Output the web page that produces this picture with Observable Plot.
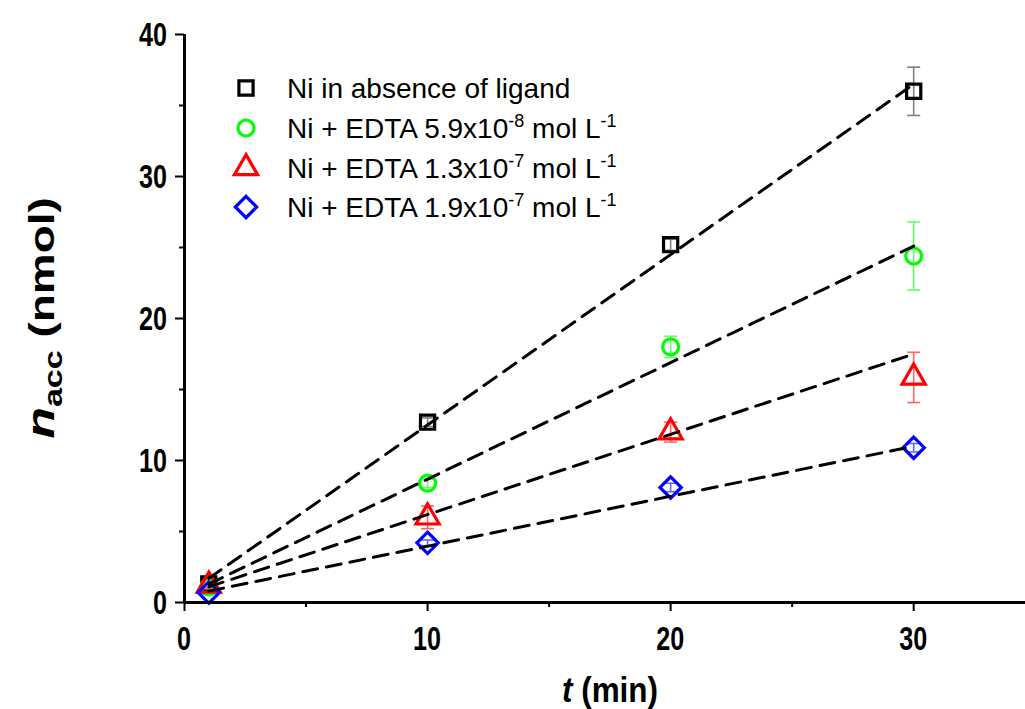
<!DOCTYPE html>
<html><head><meta charset="utf-8">
<script src="https://cdn.jsdelivr.net/npm/d3@7"></script>
<script src="https://cdn.jsdelivr.net/npm/@observablehq/plot@0.6"></script>
<style>body{margin:0;background:#fff} svg{display:block}</style>
</head><body><div id="chart"></div>
<script>
// ---- data ----
const times = [1, 10, 20, 30];
const absence = [1.3, 12.7, 25.2, 36.0];
const absenceErr = [0.3, 0.3, 0.4, 1.7];
const edta59 = [1.1, 8.4, 18.0, 24.4];
const edta59Err = [0.2, 0.3, 0.75, 2.4];
const edta13 = [1.2, 6.0, 12.0, 15.85];
const edta13Err = [0.2, 0.8, 0.7, 1.77];
const edta19 = [0.7, 4.2, 8.1, 10.9];
const edta19Err = [0.1, 0.2, 0.3, 0.3];
const fitTimes = [1, 30];
const fitAbsence = [1.7, 36.5];
const fit59 = [1.3, 25.1];
const fit13 = [1.1, 17.5];
const fit19 = [0.8, 11.0];
const xTicks = [0, 10, 20, 30];
const xMinor = [5, 15, 25];
const yTicks = [0, 10, 20, 30, 40];
const yMinor = [5, 15, 25, 35];

const FONT = '"Liberation Sans", Arial, Helvetica, sans-serif';

const series = [
  {key: "absence", values: absence, err: absenceErr, fit: fitAbsence, color: "#000000", errColor: "#808080", symbol: "square", d3sym: d3.symbolSquare, r: 8.0,
   text: [["Ni in absence of ligand", false]]},
  {key: "e59", values: edta59, err: edta59Err, fit: fit59, color: "#00ff00", errColor: "#66ff66", symbol: "circle", d3sym: d3.symbolCircle, r: 8.0,
   text: [["Ni + EDTA 5.9x10", false], ["-8", true], [" mol L", false], ["-1", true]]},
  {key: "e13", values: edta13, err: edta13Err, fit: fit13, color: "#ff0000", errColor: "#ff6666", symbol: "triangle", d3sym: d3.symbolTriangle, r: 8.6,
   text: [["Ni + EDTA 1.3x10", false], ["-7", true], [" mol L", false], ["-1", true]]},
  {key: "e19", values: edta19, err: edta19Err, fit: fit19, color: "#0000ff", errColor: "#6666ff", symbol: "diamond2", d3sym: d3.symbolDiamond2, r: 9.6,
   text: [["Ni + EDTA 1.9x10", false], ["-7", true], [" mol L", false], ["-1", true]]}
];

const points = series.flatMap(s => times.map((t, i) => ({series: s.key, x: t, y: s.values[i], e: s.err[i], color: s.color, errColor: s.errColor})));
const fits = series.flatMap(s => fitTimes.map((t, i) => ({series: s.key, x: t, y: s.fit[i]})));

const capSymbol = {draw(ctx) { ctx.moveTo(-6.5, 0); ctx.lineTo(6.5, 0); }};

const marks = [
  Plot.ruleX(points, {x: "x", y1: d => d.y - d.e, y2: d => d.y + d.e, stroke: d => d.errColor, strokeWidth: 1.6}),
  Plot.dot(points, {x: "x", y: d => d.y - d.e, symbol: () => capSymbol, stroke: d => d.errColor, strokeWidth: 1.6, r: 5}),
  Plot.dot(points, {x: "x", y: d => d.y + d.e, symbol: () => capSymbol, stroke: d => d.errColor, strokeWidth: 1.6, r: 5}),
];
for (const s of series) {
  marks.push(Plot.dot(points.filter(p => p.series === s.key), {x: "x", y: "y", symbol: s.symbol, r: s.r, stroke: s.color, fill: "none", strokeWidth: 3.2}));
}
marks.push(
  Plot.line(fits, {x: "x", y: "y", z: "series", stroke: "#000", strokeWidth: 3, strokeDasharray: "15,9"}),
  Plot.axisX({ticks: xMinor, tickSize: 5, text: null, label: null, strokeWidth: 2}),
  Plot.axisY({ticks: yMinor, tickSize: 5, text: null, label: null, strokeWidth: 2}),
  Plot.axisX({ticks: xTicks, tickSize: 9, text: null, label: null, strokeWidth: 2}),
  Plot.axisY({ticks: yTicks, tickSize: 9, text: null, label: null, strokeWidth: 2}),
  Plot.ruleY([0], {stroke: "#000", strokeWidth: 3}),
  Plot.ruleX([0], {stroke: "#000", strokeWidth: 3})
);

const chart = Plot.plot({
  width: 1025, height: 709,
  marginLeft: 184, marginRight: 0, marginTop: 34, marginBottom: 107,
  x: {domain: [0, 34.6]},
  y: {domain: [0, 40]},
  style: {fontFamily: FONT, color: "#000", background: "#fff", overflow: "visible"},
  marks
});
document.getElementById("chart").appendChild(chart);

const svg = d3.select(chart);
const xs = chart.scale("x"), ys = chart.scale("y");
// tick labels (condensed bold glyphs), placed with Plot's own scales
const tl = svg.append("g").attr("font-family", FONT).attr("font-size", 34).attr("font-weight", "bold").attr("fill", "#000");
xTicks.forEach(v => {
  const px = xs.apply(v), py = ys.apply(0) + 48;
  tl.append("text").attr("text-anchor", "middle")
    .attr("transform", `translate(${px},${py}) scale(0.74,1)`).text(String(v));
});
yTicks.forEach(v => {
  const px = xs.apply(0) - 17, py = ys.apply(v) + 12;
  tl.append("text").attr("text-anchor", "end")
    .attr("transform", `translate(${px},${py}) scale(0.74,1)`).text(String(v));
});
// legend
const rowY = [88, 128, 168, 207];
const leg = svg.append("g").attr("font-family", FONT).attr("fill", "#000").attr("text-anchor", "start");
series.forEach((s, i) => {
  leg.append("path")
    .attr("d", d3.symbol(s.d3sym, Math.PI * s.r * s.r)())
    .attr("transform", `translate(246,${rowY[i]})`)
    .attr("fill", "none").attr("stroke", s.color).attr("stroke-width", 3.2);
  const t = leg.append("text").attr("x", 287).attr("y", rowY[i] + 10).attr("font-size", 28).attr("text-anchor", "start");
  let raised = false;
  for (const [str, sup] of s.text) {
    const ts = t.append("tspan").text(str);
    if (sup && !raised) { ts.attr("dy", -11).attr("font-size", 18); raised = true; }
    else if (sup) { ts.attr("font-size", 18); }
    else if (raised) { ts.attr("dy", 11); raised = false; }
  }
});
// x label
const xl = svg.append("text").attr("transform", "translate(610,702) scale(0.9,1)").attr("text-anchor", "middle")
  .attr("font-family", FONT).attr("font-size", 35).attr("font-weight", "bold");
xl.append("tspan").attr("font-style", "italic").text("t");
xl.append("tspan").text(" (min)");
// y label
const yl = svg.append("text").attr("transform", "translate(54,318) scale(0.75,1) rotate(-90)").attr("text-anchor", "middle")
  .attr("font-family", FONT).attr("font-size", 46).attr("font-weight", "bold");
yl.append("tspan").attr("font-style", "italic").attr("font-size", 52).text("n");
yl.append("tspan").attr("font-size", 34).attr("dy", 11).text("acc");
yl.append("tspan").attr("dy", -11).text(" (nmol)");
</script></body></html>
